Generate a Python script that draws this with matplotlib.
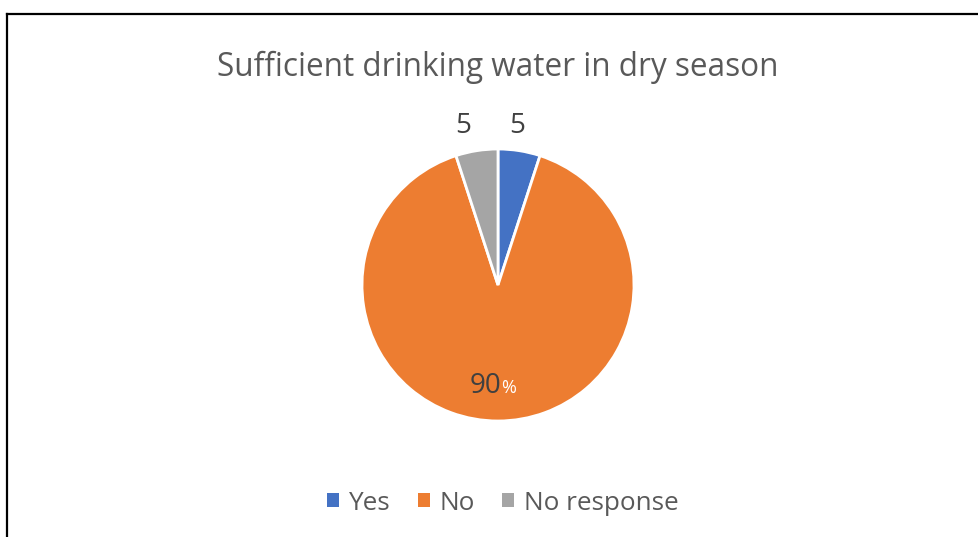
import matplotlib
matplotlib.use("Agg")
import matplotlib.pyplot as plt
from matplotlib.lines import Line2D
from matplotlib.patches import Patch
import numpy as np

title = "Sufficient drinking water in dry season"
categories = ["Yes", "No", "No response"]
values = [5, 90, 5]
colors = ["#4472C4", "#ED7D31", "#A5A5A5"]

plt.rcParams['font.family'] = ['Open Sans', 'DejaVu Sans']

W, H = 979, 537
fig = plt.figure(figsize=(W / 100, H / 100), dpi=100)

# chart frame (left and top edges visible)
fig.add_artist(Line2D([7 / W, 7 / W], [0, 1 - 14 / H], color="black", lw=1.6,
                      transform=fig.transFigure))
fig.add_artist(Line2D([7 / W, 1], [1 - 14 / H, 1 - 14 / H], color="black", lw=1.6,
                      transform=fig.transFigure))

cx, cy, r = 498, 285, 136
ax = fig.add_axes([(cx - r) / W, 1 - (cy + r) / H, 2 * r / W, 2 * r / H])
wedges, _ = ax.pie(values, colors=colors, startangle=90, counterclock=False,
                   radius=1, wedgeprops=dict(edgecolor="white", linewidth=2))
ax.set_xlim(-1, 1)
ax.set_ylim(-1, 1)
ax.set_aspect("equal")
ax.axis("off")

# data labels: small slices above the pie, large slice inside
outside_x = {0: 0.14, 2: -0.26}
for i, (v, w) in enumerate(zip(values, wedges)):
    mid = np.deg2rad((w.theta1 + w.theta2) / 2)
    if i in outside_x:
        y = 1.18 * np.sin(mid)
        ax.text(outside_x[i], y, f"{v}", ha="center", va="center",
                fontsize=20, color="#404040")
    else:
        d = 0.74
        x, y = d * np.cos(mid), d * np.sin(mid)
        ax.text(x + 0.025, y, f"{v}", ha="right", va="center", fontsize=20,
                color="#404040")
        ax.text(x + 0.02, y - 0.015, "%", ha="left", va="center", fontsize=13,
                color="white")

fig.text(498 / W, 1 - 76 / H, title, ha="center", va="baseline", fontsize=22.7,
         color="#595959")

handles = [Patch(facecolor=c, edgecolor="none") for c in colors]
fig.legend(handles, categories, loc="center", bbox_to_anchor=(503 / W, 1 - 503 / H),
           ncol=3, frameon=False, fontsize=18.8, labelcolor="#595959",
           handlelength=0.45, handleheight=0.45, handletextpad=0.38,
           columnspacing=1.05)

fig.savefig("out.png", dpi=100)
